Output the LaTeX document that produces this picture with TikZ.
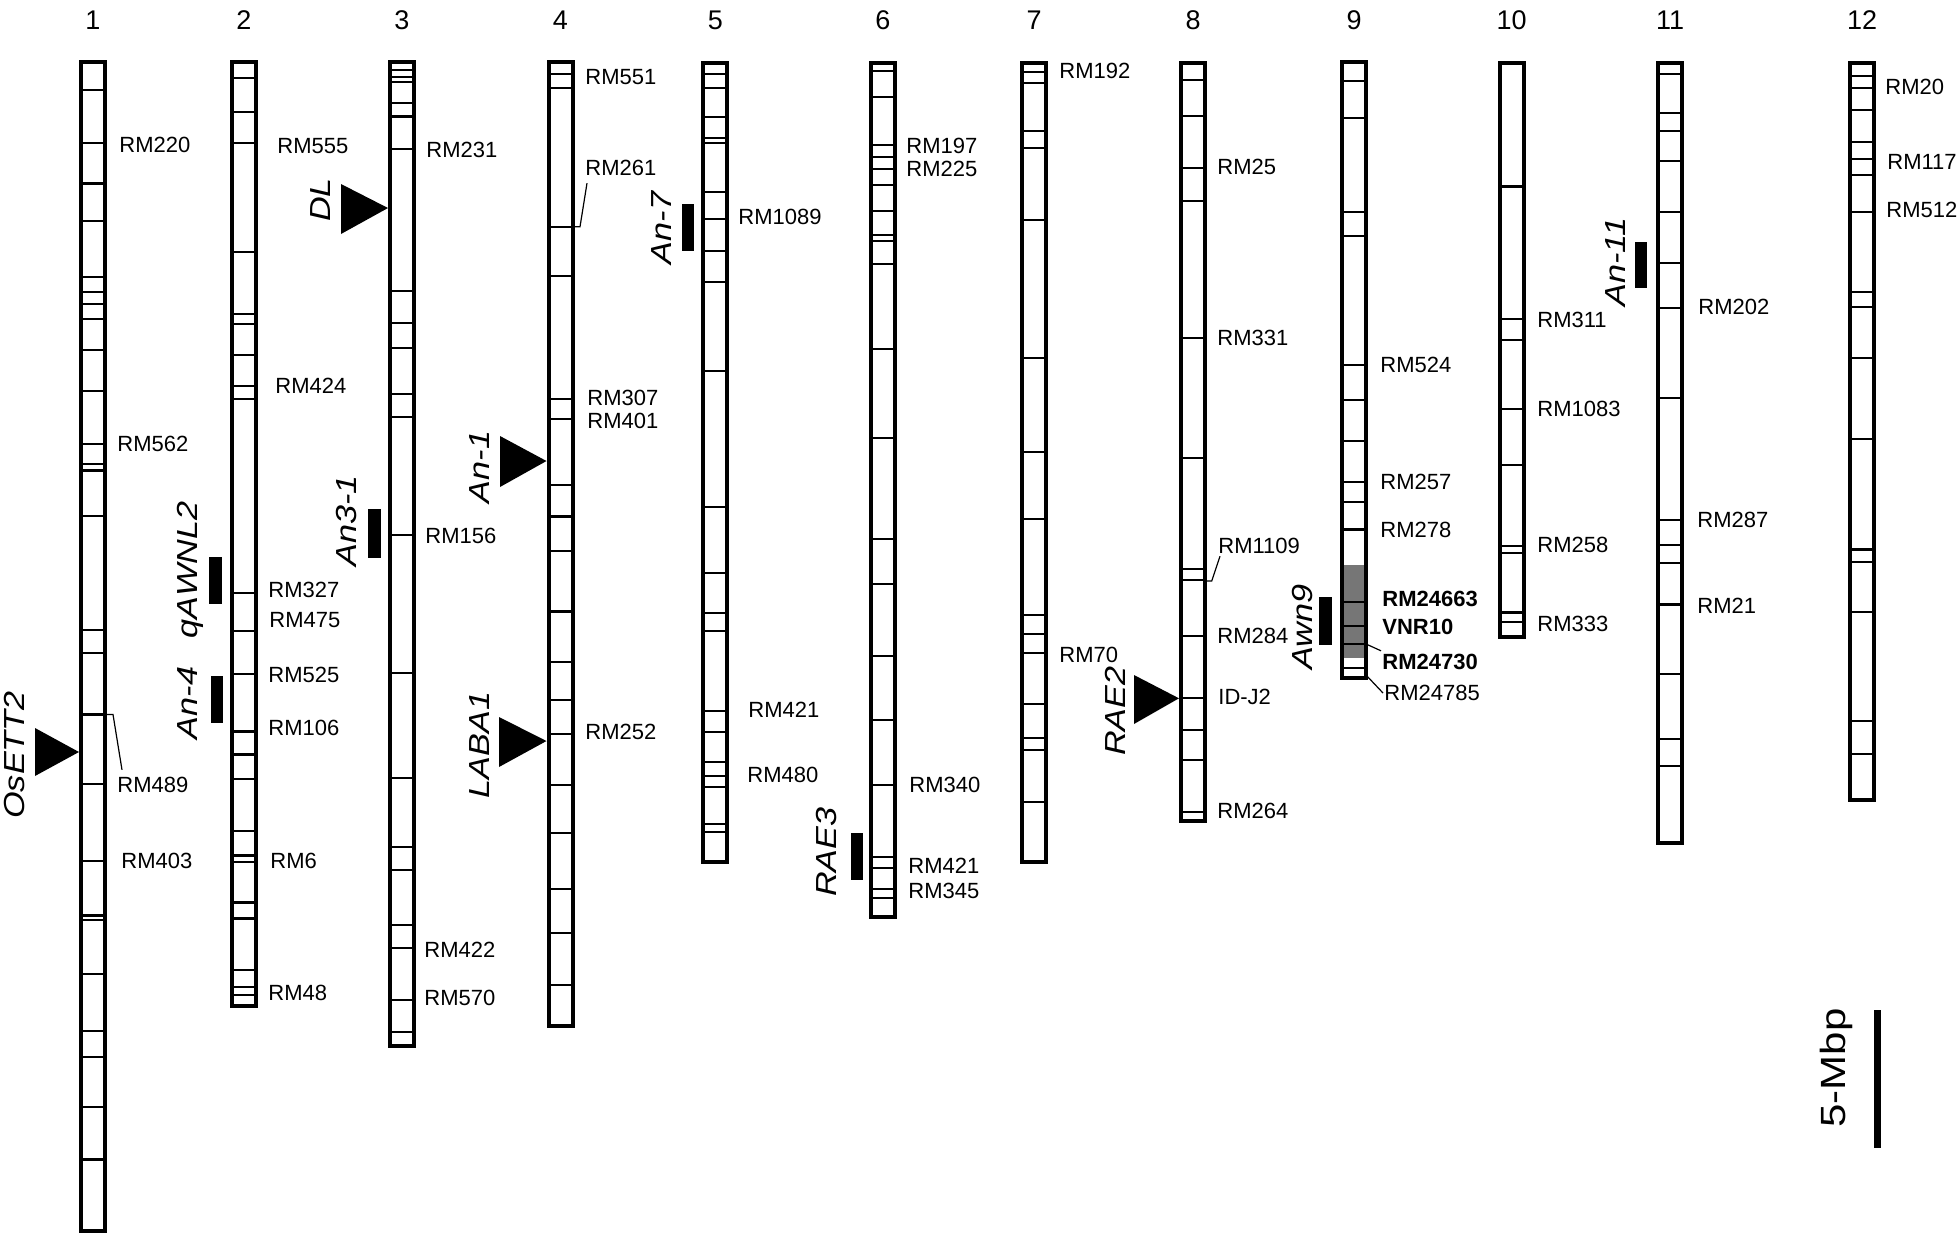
\documentclass[tikz,border=0pt]{standalone}
\usepackage{fontspec}
\setmainfont{Liberation Sans}
\definecolor{awngray}{RGB}{118,118,118}

\begin{document}
\begin{tikzpicture}[x=0.5pt,y=-0.5pt,
  chrom/.style={line width=2pt},
  band/.style={line width=1.1pt},
  lead/.style={line width=0.6pt},
  mk/.style={anchor=west,inner sep=0pt,font=\fontsize{11}{13}\selectfont},
  mkb/.style={mk,font=\fontsize{11}{13}\selectfont\bfseries},
  gene/.style={rotate=90,xscale=1.18,inner sep=0pt,font=\fontsize{14.5}{17}\selectfont\itshape},
  num/.style={inner sep=0pt,font=\fontsize{13.5}{16}\selectfont}]

\useasboundingbox (0,0) rectangle (1960,1238);

% --- NUMERI CROMOSOMI ---
\foreach \c/\n in {93/1,244/2,402/3,560.5/4,715.3/5,882.8/6,1034/7,1193/8,1354/9,1511.7/10,1670/11,1862/12} {
    \node[num] (n\n) at (\c,20) {\n};
}

% --- CHROMOSOME 1 ---
\foreach \y in {90,143.3,183.5,220.6,277.3,291.8,304,318.6,350,391.3,443.7,464,470.5,515.7,630,653.3,714.4,783.8,861.2,915.4,920.3,973.7,1031,1056.8,1107.2,1159.4} {
    \draw[band] (81,\y) -- (105,\y);
}
\draw[chrom] (81,62) rectangle (105,1231);
\node[mk] (m220) at (119,145) {RM220};
\node[mk] (m562) at (117,444) {RM562};
\node[mk] (m489) at (117,785) {RM489};
\node[mk] (m403) at (121,861) {RM403};
\draw[lead] (105,714.4) -- (113,714.4) -- ([shift={(5,-7)}]m489.north west);
\fill (35,728) -- (35,776) -- (79,752) -- cycle;
\node[gene] (osett2) at (15,755) {OsETT2};

% --- CHROMOSOME 2 ---
\foreach \y in {78.3,112,143.3,251.6,313.6,324,354.6,386.3,398.6,593,631.3,674.3,731.5,754.4,779.2,830.7,855.5,862.3,902.4,918.4,970,987,994.7} {
    \draw[band] (232,\y) -- (256,\y);
}
\draw[chrom] (232,62) rectangle (256,1006);
\node[mk] (m555) at (277,146) {RM555};
\node[mk] (m424) at (275,386) {RM424};
\node[mk] (m327) at (268,590) {RM327};
\node[mk] (m475) at (269,620) {RM475};
\node[mk] (m525) at (268,675) {RM525};
\node[mk] (m106) at (268,728) {RM106};
\node[mk] (m6) at (270,861) {RM6};
\node[mk] (m48) at (268,993) {RM48};
\fill (209,557) rectangle (222,604);
\node[gene] (qawnl2) at (190,570) {qAWNL2};
\fill (211,676) rectangle (223,723);
\node[gene] (an4) at (188,703) {An-4};

% --- CHROMOSOME 3 ---
\foreach \y in {70,77,82,103,116.5,149,290.7,323.2,348,394,417,534.8,673.3,778.3,846.7,870,925,948.3,1000,1032.3} {
    \draw[band] (390,\y) -- (414,\y);
}
\draw[chrom] (390,62) rectangle (414,1046);
\node[mk] (m231) at (426,150) {RM231};
\node[mk] (m156) at (425,536) {RM156};
\node[mk] (m422) at (424,950) {RM422};
\node[mk] (m570) at (424,998) {RM570};
\fill (341,184) -- (341,234) -- (388,208) -- cycle;
\node[gene] (dl) at (321,200) {DL};
\fill (368,509) rectangle (381,558);
\node[gene] (an31) at (347,521) {An3-1};

% --- CHROMOSOME 4 ---
\foreach \y in {74,88,226.8,276,399,418.9,485,516.5,551,611.4,661.7,700,734.3,785,833.3,889.3,932.7,985} {
    \draw[band] (548.5,\y) -- (572.5,\y);
}
\draw[chrom] (548.5,62) rectangle (572.5,1026);
\node[mk] (m551) at (585,77) {RM551};
\node[mk] (m261) at (585,168) {RM261};
\node[mk] (m307) at (587,398) {RM307};
\node[mk] (m401) at (587,421) {RM401};
\node[mk] (m252) at (585,732) {RM252};
\draw[lead] (572.5,226.8) -- (580,226.8) -- ([shift={(2,7)}]m261.south west);
\fill (500,436) -- (500,487) -- (546.5,461) -- cycle;
\node[gene] (an1) at (480,467) {An-1};
\fill (499,717) -- (499,767) -- (546.5,741) -- cycle;
\node[gene] (laba1) at (480,745) {LABA1};

% --- CHROMOSOME 5 ---
\foreach \y in {74.3,87.7,117.3,137.7,143.3,192.3,219,251,282.3,371,506.7,572.7,613.3,631,710.7,731.7,761.7,776,787.3,824,832.3} {
    \draw[band] (703.3,\y) -- (727.3,\y);
}
\draw[chrom] (703.3,63) rectangle (727.3,862);
\node[mk] (m1089) at (738,217) {RM1089};
\node[mk] (m421a) at (748,710) {RM421};
\node[mk] (m480) at (747,775) {RM480};
\fill (682,204) rectangle (694,251);
\node[gene] (an7) at (662,228) {An-7};

% --- CHROMOSOME 6 ---
\foreach \y in {71,96.7,145,156.7,169,185,210.7,235,241,264,349.3,437.7,539.3,584.3,655.7,720,785,856.7,867.7,889.3,898.3} {
    \draw[band] (870.8,\y) -- (894.8,\y);
}
\draw[chrom] (870.8,63) rectangle (894.8,917);
\node[mk] (m197) at (906,146) {RM197};
\node[mk] (m225) at (906,169) {RM225};
\node[mk] (m340) at (909,785) {RM340};
\node[mk] (m421b) at (908,866) {RM421};
\node[mk] (m345) at (908,891) {RM345};
\fill (851,833) rectangle (863,880);
\node[gene] (rae3) at (827,852) {RAE3};

% --- CHROMOSOME 7 ---
\foreach \y in {72.3,82.7,131,148.3,220,358.3,451.7,519.3,615,634,653.3,704,738.3,750,801.7} {
    \draw[band] (1022,\y) -- (1046,\y);
}
\draw[chrom] (1022,63) rectangle (1046,862);
\node[mk] (m192) at (1059,71) {RM192};
\node[mk] (m70) at (1059,655) {RM70};

% --- CHROMOSOME 8 ---
\foreach \y in {80,116,167.7,200.7,338.3,457.7,569.3,580,636,698.3,730,760,811.7} {
    \draw[band] (1181,\y) -- (1205,\y);
}
\draw[chrom] (1181,63) rectangle (1205,821);
\node[mk] (m25) at (1217,167) {RM25};
\node[mk] (m331) at (1217,338) {RM331};
\node[mk] (m1109) at (1218,546) {RM1109};
\node[mk] (m284) at (1217,636) {RM284};
\node[mk] (idj2) at (1218,697) {ID-J2};
\node[mk] (m264) at (1217,811) {RM264};
\draw[lead] (1205,581) -- (1211.7,581) -- ([shift={(2,2)}]m1109.south west);
\fill (1134,675) -- (1134,724) -- (1179,698.3) -- cycle;
\node[gene] (rae2) at (1115,711) {RAE2};

% --- CHROMOSOME 9 ---
\fill[awngray] (1342,565) rectangle (1366,658);
\foreach \y in {80.8,117.9,211.7,235.7,365.3,399.9,440.7,481.9,501.7,529.5,601.7,626,644,668} {
    \draw[band] (1342,\y) -- (1366,\y);
}
\draw[chrom] (1342,62) rectangle (1366,678);
\node[mk] (m524) at (1380,365) {RM524};
\node[mk] (m257) at (1380,482) {RM257};
\node[mk] (m278) at (1380,530) {RM278};
\node[mkb] (m24663) at (1382,599) {RM24663};
\node[mkb] (vnr10) at (1382,627) {VNR10};
\node[mkb] (m24730) at (1382,662) {RM24730};
\node[mk] (m24785) at (1384,693) {RM24785};
\draw[lead] (1366,644) -- ([shift={(-1,-3)}]m24730.north west);
\draw[lead] (1366,675) -- ([shift={(-1,0)}]m24785.west);
\fill (1319,597) rectangle (1332,645);
\node[gene] (awn9) at (1303,627) {Awn9};

% --- CHROMOSOME 10 ---
\foreach \y in {186.5,319,340,409,465,546,553,612.4,622} {
    \draw[band] (1499.7,\y) -- (1523.7,\y);
}
\draw[chrom] (1499.7,63) rectangle (1523.7,637);
\node[mk] (m311) at (1537,320) {RM311};
\node[mk] (m1083) at (1537,409) {RM1083};
\node[mk] (m258) at (1537,545) {RM258};
\node[mk] (m333) at (1537,624) {RM333};

% --- CHROMOSOME 11 ---
\foreach \y in {74,112.7,131,160.7,212.3,262.7,307.7,397.7,519.8,544.7,562.6,604.5,674,739,765.9} {
    \draw[band] (1658,\y) -- (1682,\y);
}
\draw[chrom] (1658,63) rectangle (1682,843);
\node[mk] (m202) at (1698,307) {RM202};
\node[mk] (m287) at (1697,520) {RM287};
\node[mk] (m21) at (1697,606) {RM21};
\fill (1635,242) rectangle (1647,288);
\node[gene] (an11) at (1616,262) {An-11};

% --- CHROMOSOME 12 ---
\foreach \y in {76,87.7,110,142.3,159,175,211.7,292.3,306.7,358.3,439,549.4,562,612,721,754} {
    \draw[band] (1850,\y) -- (1874,\y);
}
\draw[chrom] (1850,63) rectangle (1874,800);
\node[mk] (m20) at (1885,87) {RM20};
\node[mk] (m117) at (1887,162) {RM117};
\node[mk] (m512) at (1886,210) {RM512};

% --- BARRA DI SCALA ---
\coordinate (sbtop) at (1877,1010);
\coordinate (sbbot) at (1877,1148);
\draw[line width=3.5pt] (sbtop) -- (sbbot);
\node[rotate=90,xscale=1.2,inner sep=0pt,font=\fontsize{17.5}{20}\selectfont] (sblabel) at (1836,1068) {5-Mbp};

\end{tikzpicture}
\end{document}
